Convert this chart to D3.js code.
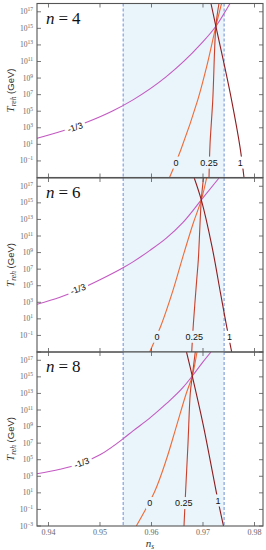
<!DOCTYPE html>
<html>
<head>
<meta charset="utf-8">
<title>T_reh vs n_s</title>
<script src="https://d3js.org/d3.v7.min.js"></script>
<style>
  body { margin: 0; background: #fff; }
  svg text { font-family: "Liberation Serif", serif; }
</style>
</head>
<body>
<div id="chart"></div>
<script>
// ---- data ----
const panelN = [4, 6, 8];
const wLabels = ["-1/3", "0", "0.25", "1"];
const xTicks = [0.94, 0.95, 0.96, 0.97, 0.98];
const yTickExp = [17, 15, 13, 11, 9, 7, 5, 3, 1, -1, -3];
const planckBand = [0.9545, 0.9741];

// curves as [n_s, log10(T_reh / GeV)]
const n4_wm13 = [[0.93777, 1.73], [0.94282, 2.64], [0.94767, 3.72], [0.95252, 5.05], [0.95641, 6.37],
                 [0.96282, 9.14], [0.96942, 13.0], [0.9725, 15.25], [0.97524, 18.0]];
const n4_w0 = [[0.9635, -3.0], [0.9657, 0.35], [0.9690, 6.4], [0.9707, 10.35], [0.9725, 15.25], [0.9736, 18.0]];
const n4_w025 = [[0.97117, -3.0], [0.97136, 0.95], [0.9719, 6.4], [0.9725, 15.25], [0.9731, 18.0]];
const n4_w1 = [[0.97155, 18.0], [0.9725, 15.25], [0.9742, 10.4], [0.97553, 6.4], [0.97718, 0.7], [0.97796, -3.0]];

const n6_wm13 = [[0.93777, 2.76], [0.94223, 3.6], [0.94612, 4.57], [0.9500, 5.71], [0.95447, 7.16], [0.95641, 7.88],
                 [0.95971, 9.27], [0.96282, 10.71], [0.96612, 12.64], [0.96967, 15.35], [0.97311, 18.0]];
const n6_w0 = [[0.95965, -3.0], [0.9619, 0.29], [0.9642, 4.5], [0.9661, 8.52], [0.9681, 12.54], [0.96967, 15.35], [0.9707, 18.0]];
const n6_w025 = [[0.96781, -3.0], [0.96812, 0.29], [0.96878, 5.71], [0.96909, 8.12], [0.96967, 15.35], [0.9701, 18.0]];
const n6_w1 = [[0.9683, 18.0], [0.96967, 15.35], [0.97175, 9.72], [0.9734, 4.1], [0.97447, 0.49], [0.97557, -3.0]];

const n8_wm13 = [[0.93777, 3.3], [0.94223, 3.84], [0.94612, 4.51], [0.9500, 5.59], [0.95447, 7.52], [0.95641, 8.48],
                 [0.95971, 10.05], [0.96282, 11.73], [0.96612, 13.72], [0.96792, 15.1], [0.9700, 16.8], [0.97155, 18.0]];
const n8_w0 = [[0.95705, -3.0], [0.96062, 1.17], [0.96287, 4.99], [0.96482, 9.0], [0.96676, 13.02], [0.96792, 15.1], [0.96883, 18.0]];
const n8_w025 = [[0.96631, -3.0], [0.96664, 1.37], [0.96709, 7.0], [0.96753, 13.02], [0.96792, 15.1], [0.9685, 18.0]];
const n8_w1 = [[0.9668, 18.0], [0.96792, 15.1], [0.9700, 9.33], [0.97175, 3.78], [0.97291, 0.08], [0.97398, -3.0]];

// curve label anchors [n_s, log10 T, rotation]
const n4_labels = [[0.94515, 3.06, -19], [0.96476, -1.2, 0], [0.97117, -1.2, 0], [0.97724, -1.2, 0]];
const n6_labels = [[0.94573, 4.6, -20], [0.96107, -1.16, 0], [0.96831, -1.16, 0], [0.97515, -1.16, 0]];
const n8_labels = [[0.94645, 4.63, -20], [0.95965, -0.23, 0], [0.96625, -0.23, 0], [0.97291, 0.08, 0]];

const panelCurves = [[n4_wm13, n4_w0, n4_w025, n4_w1], [n6_wm13, n6_w0, n6_w025, n6_w1], [n8_wm13, n8_w0, n8_w025, n8_w1]];
const panelLabels = [n4_labels, n6_labels, n8_labels];

// ---- layout ----
const width = 266, height = 550;
const left = 37, right = 263;
const panelTops = [3.5, 178, 352];
const panelH = 174;
const lineColors = ["#c35ac2", "#f06a35", "#c9402a", "#8e1b1d"];
const axisColor = "#555";

const svg = d3.select("#chart").append("svg")
    .attr("width", width)
    .attr("height", height);

const x = d3.scaleLinear().domain([0.93777, 0.98165]).range([left, right]);

function supText(sel, base, exp) {
    sel.append("tspan").text(base);
    sel.append("tspan").attr("dy", -3).attr("font-size", 5.5)
        .text(String(exp).replace("-", "\u2212"));
}

panelN.forEach(function(n, i) {
    var top = panelTops[i];
    var y = d3.scaleLog().domain([1e-3, 1e18]).range([top + panelH, top]);
    var g = svg.append("g").attr("class", "panel");

    var clipId = "clip" + i;
    svg.append("clipPath").attr("id", clipId)
        .append("rect").attr("x", left).attr("y", top).attr("width", right - left).attr("height", panelH);

    // Planck band
    g.append("rect")
        .attr("x", x(planckBand[0])).attr("y", top)
        .attr("width", x(planckBand[1]) - x(planckBand[0])).attr("height", panelH)
        .attr("fill", "#e9f5fb");
    g.selectAll("line.band").data(planckBand).enter().append("line")
        .attr("x1", d => x(d)).attr("x2", d => x(d))
        .attr("y1", top).attr("y2", top + panelH)
        .attr("stroke", "#6e8fd3").attr("stroke-width", 1)
        .attr("stroke-dasharray", "3,2");

    // gaps for the inline labels
    var maskId = "mask" + i;
    var mask = svg.append("mask").attr("id", maskId);
    mask.append("rect").attr("x", 0).attr("y", 0).attr("width", width).attr("height", height).attr("fill", "white");

    var labs = panelLabels[i];
    labs.forEach(function(l, k) {
        var w = wLabels[k].length * 4.6 + 3;
        mask.append("rect")
            .attr("x", -w / 2).attr("y", -6).attr("width", w).attr("height", 12)
            .attr("fill", "black")
            .attr("transform", "translate(" + x(l[0]) + "," + y(Math.pow(10, l[1])) + ") rotate(" + l[2] + ")");
    });

    var line = d3.line()
        .x(d => x(d[0]))
        .y(d => y(Math.pow(10, d[1])));

    g.append("g")
        .attr("clip-path", "url(#" + clipId + ")")
        .attr("mask", "url(#" + maskId + ")")
        .selectAll("path")
        .data(panelCurves[i])
        .enter()
        .append("path")
        .attr("d", (d, k) => line.curve(k === 0 ? d3.curveMonotoneX : d3.curveCatmullRom.alpha(0.5))(d))
        .attr("fill", "none")
        .attr("stroke", (d, k) => lineColors[k])
        .attr("stroke-width", 1.1);

    labs.forEach(function(l, k) {
        g.append("text")
            .attr("transform", "translate(" + x(l[0]) + "," + y(Math.pow(10, l[1])) + ") rotate(" + l[2] + ")")
            .attr("text-anchor", "middle")
            .attr("dy", "0.35em")
            .style("font-family", "'Liberation Sans', Arial, sans-serif")
            .style("font-size", "9px")
            .attr("fill", "#111")
            .text(wLabels[k]);
    });

    // frame
    g.append("rect")
        .attr("x", left).attr("y", top).attr("width", right - left).attr("height", panelH)
        .attr("fill", "none").attr("stroke", axisColor).attr("stroke-width", 1.1);

    // y ticks, both sides
    var yt = g.append("g");
    yTickExp.forEach(function(e) {
        var yy = y(Math.pow(10, e));
        yt.append("line").attr("x1", left).attr("x2", left + 4).attr("y1", yy).attr("y2", yy)
            .attr("stroke", axisColor).attr("stroke-width", 0.8);
        yt.append("line").attr("x1", right).attr("x2", right - 4).attr("y1", yy).attr("y2", yy)
            .attr("stroke", axisColor).attr("stroke-width", 0.8);
        if (e === -3 && i < 2) return;
        var t = yt.append("text")
            .attr("x", 33).attr("y", yy + 2.5)
            .attr("text-anchor", "end")
            .attr("fill", "#666")
            .style("font-size", "7.5px");
        supText(t, "10", e);
    });

    // x ticks top and bottom
    xTicks.forEach(function(v) {
        var xx = x(v);
        g.append("line").attr("x1", xx).attr("x2", xx).attr("y1", top + panelH).attr("y2", top + panelH - 4)
            .attr("stroke", axisColor).attr("stroke-width", 0.8);
        g.append("line").attr("x1", xx).attr("x2", xx).attr("y1", top).attr("y2", top + 4)
            .attr("stroke", axisColor).attr("stroke-width", 0.8);
    });

    // panel title
    var title = g.append("text")
        .attr("x", 46).attr("y", top + 20)
        .style("font-size", "17px")
        .attr("fill", "#111");
    title.append("tspan").style("font-style", "italic").text("n");
    title.append("tspan").attr("dx", 4).text("=");
    title.append("tspan").attr("dx", 4).text(n);

    // y label
    var yl = g.append("text")
        .attr("transform", "translate(14," + (top + panelH / 2) + ") rotate(-90)")
        .attr("text-anchor", "middle")
        .attr("fill", "#333");
    yl.append("tspan").style("font-style", "italic").style("font-size", "11px").text("T");
    yl.append("tspan").style("font-style", "italic").style("font-size", "7.5px").attr("dy", 2).text("reh");
    yl.append("tspan").attr("dy", -2)
        .style("font-family", "'Liberation Sans', Arial, sans-serif").style("font-size", "9.5px")
        .text(" (GeV)");
});

// x tick labels on the bottom panel
var bottom = panelTops[2] + panelH;
svg.append("g").selectAll("text")
    .data(xTicks)
    .enter()
    .append("text")
    .attr("x", d => x(d))
    .attr("y", bottom + 9)
    .attr("text-anchor", "middle")
    .attr("fill", "#666")
    .style("font-size", "8px")
    .text(d => d.toFixed(2));

var xl = svg.append("text")
    .attr("x", (left + right) / 2).attr("y", bottom + 21)
    .attr("text-anchor", "middle")
    .attr("fill", "#333");
xl.append("tspan").style("font-style", "italic").style("font-size", "11px").text("n");
xl.append("tspan").style("font-style", "italic").style("font-size", "7.5px").attr("dy", 2).text("s");
</script>
</body>
</html>
